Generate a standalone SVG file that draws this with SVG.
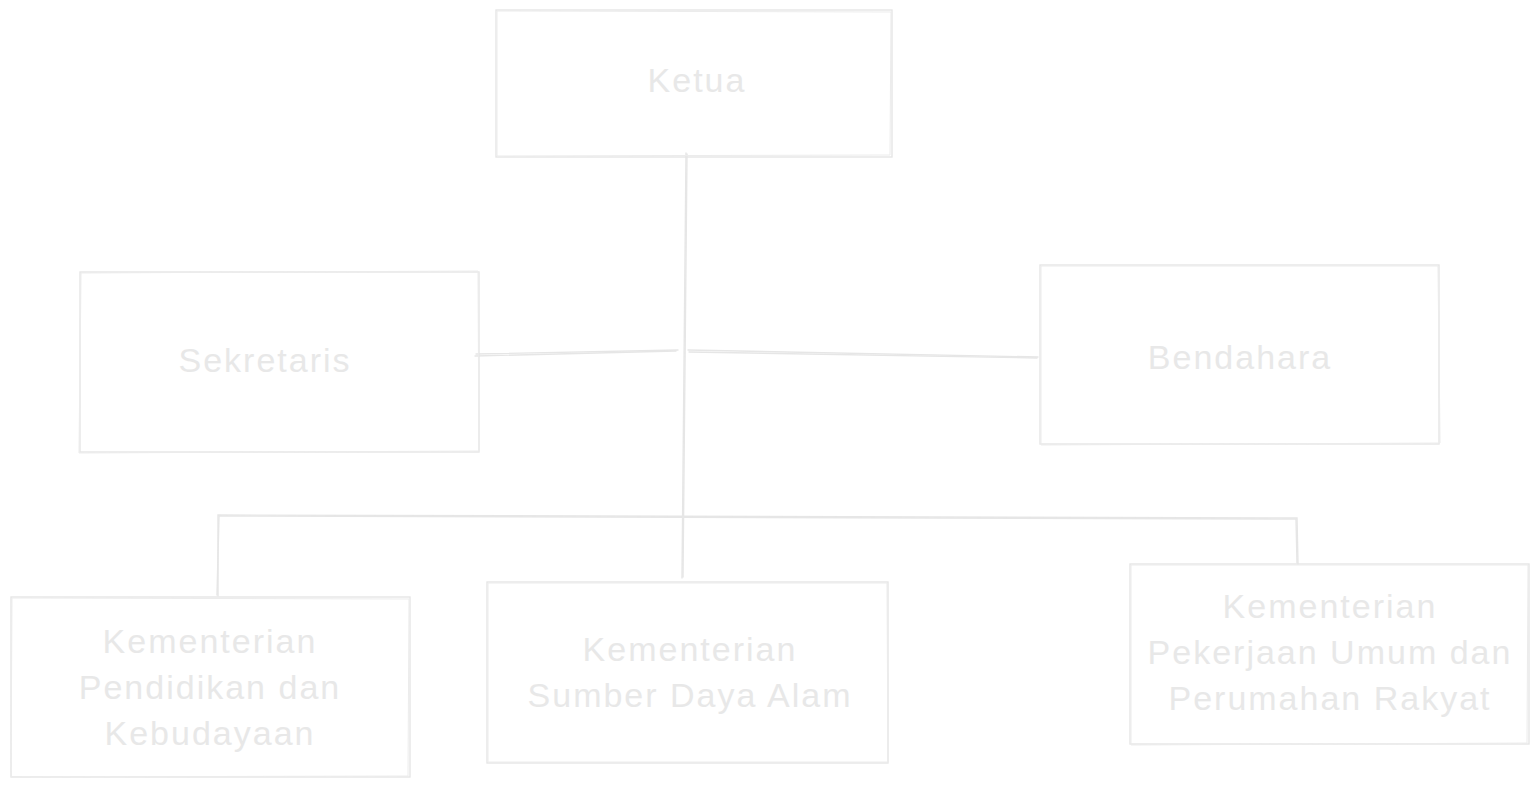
<svg xmlns="http://www.w3.org/2000/svg" width="1539" height="787" viewBox="0 0 1539 787">
<style>
.box{fill:none;stroke:#e6e6e6;stroke-width:1.4}
.box2{fill:none;stroke:#ececec;stroke-width:1}
.ln{fill:none;stroke:#e6e6e6;stroke-width:1.4;stroke-linecap:round}
.t{font-family:"Liberation Sans",Arial,sans-serif;font-size:34px;fill:#e8e8e8;text-anchor:middle;dominant-baseline:central;letter-spacing:2px}
</style>
<rect width="1539" height="787" fill="#ffffff"/>
<g id="connectors">
<path class="ln" d="M686,153 L682,578"/>
<path class="ln" d="M687,154 L683,577"/>
<path class="ln" d="M476,354 L678,350"/>
<path class="ln" d="M475,356 L676,351"/>
<path class="ln" d="M688,350 L1038,357"/>
<path class="ln" d="M689,352 L1037,358"/>
<path class="ln" d="M218,596 L218,515 L1297,518 L1298,564"/>
<path class="ln" d="M217,595 L219,516 L1296,519 L1297,563"/>
</g>
<g id="ketua">
<rect class="box" x="496" y="10" width="396" height="147"/>
<path class="box2" d="M497,11 L891,12 L890,155 L497,156 Z"/>
<text class="t" x="697" y="80">Ketua</text>
</g>
<g id="sekretaris">
<rect class="box" x="80" y="272" width="399" height="180"/>
<path class="box2" d="M81,273 L478,271 L479,451 L79,453 Z"/>
<text class="t" x="265" y="360">Sekretaris</text>
</g>
<g id="bendahara">
<rect class="box" x="1040" y="265" width="399" height="179"/>
<path class="box2" d="M1041,266 L1438,266 L1440,443 L1041,445 Z"/>
<text class="t" x="1240" y="357">Bendahara</text>
</g>
<g id="pendidikan">
<rect class="box" x="11" y="597" width="399" height="180"/>
<path class="box2" d="M12,598 L409,599 L408,776 L11,777 Z"/>
<text class="t" x="210" y="641">Kementerian</text>
<text class="t" x="210" y="687">Pendidikan dan</text>
<text class="t" x="210" y="733">Kebudayaan</text>
</g>
<g id="sumberdaya">
<rect class="box" x="487" y="582" width="401" height="181"/>
<path class="box2" d="M488,583 L887,583 L888,762 L488,762 Z"/>
<text class="t" x="690" y="649">Kementerian</text>
<text class="t" x="690" y="695">Sumber Daya Alam</text>
</g>
<g id="pupr">
<rect class="box" x="1130" y="564" width="399" height="180"/>
<path class="box2" d="M1131,565 L1528,565 L1527,743 L1131,745 Z"/>
<text class="t" x="1330" y="606">Kementerian</text>
<text class="t" x="1330" y="652">Pekerjaan Umum dan</text>
<text class="t" x="1330" y="698">Perumahan Rakyat</text>
</g>
</svg>
